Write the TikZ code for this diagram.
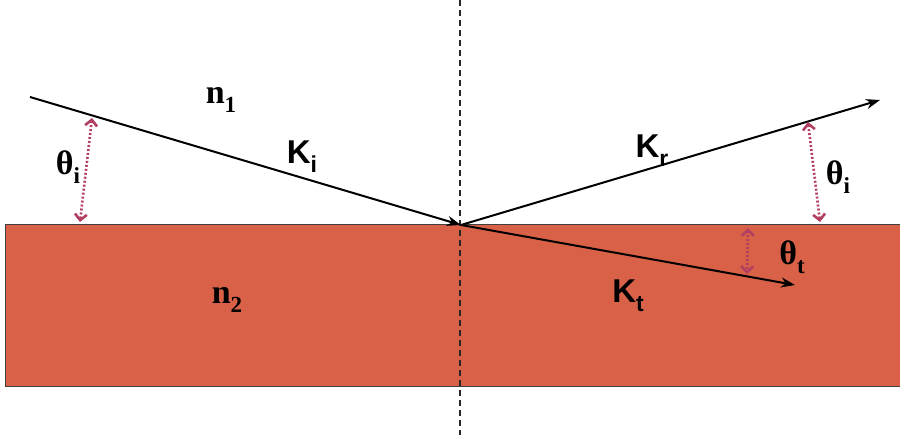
\documentclass[tikz,border=0pt]{standalone}
\usepackage{fontspec}
\setmainfont{Liberation Serif}
\setsansfont{Liberation Sans}
\usetikzlibrary{arrows.meta,positioning}
\definecolor{slabred}{RGB}{216,97,72}
\definecolor{angmaroon}{RGB}{178,62,96}
\newcommand{\lbsub}[1]{\raisebox{-0.28em}{\fontsize{23}{26}\selectfont #1}}

\begin{document}
\begin{tikzpicture}[
    x=1pt, y=-1pt, >=Stealth,
    ray/.style={line width=2pt, black, -{Stealth[length=14pt,width=10pt]}},
    ang/.style={angmaroon, line width=2.6pt, dash pattern=on 2pt off 2pt,
                {Straight Barb[length=6pt,width=12pt]}-{Straight Barb[length=6pt,width=12pt]}},
    lb/.style={font=\fontsize{34}{38}\selectfont\bfseries, inner sep=0pt},
    kb/.style={font=\fontsize{33}{38}\selectfont\sffamily\bfseries, inner sep=0pt}
]
\useasboundingbox (0,0) rectangle (900,435);
\fill[slabred, draw=black!75, line width=1pt] (5,225) rectangle (905,387);
\draw[black!85, line width=1.1pt, dash pattern=on 6pt off 4pt] (460,0) -- (460,435);

\coordinate (src)   at (30,97);
\coordinate (hit)   at (461,225);
\coordinate (refl)  at (880,100);
\coordinate (trans) at (795,285);

\draw[ray] (src) -- (hit);
\draw[ray] (hit) -- (refl);
\draw[ray] (hit) -- (trans);

\coordinate (ia) at (92,118);  \coordinate (ib) at (80,222);
\coordinate (ra) at (808,122); \coordinate (rb) at (820,222);
\coordinate (ta) at (748,228); \coordinate (tb) at (747,274);
\draw[ang] (ia) -- (ib);
\draw[ang] (ra) -- (rb);
\draw[ang] (ta) -- (tb);

\node[lb] (n1)  at (221,100) {n\lbsub{1}};
\node[lb] (n2)  at (227,300) {n\lbsub{2}};
\node[lb] (thi) at (68,167)  {θ\lbsub{i}};
\node[lb] (thr) at (838,177) {θ\lbsub{i}};
\node[lb] (tht) at (792,257) {θ\lbsub{t}};
\node[kb] (ki)  at (302,157) {K\lbsub{i}};
\node[kb] (kr)  at (652,151) {K\lbsub{r}};
\node[kb] (kt)  at (628,296) {K\lbsub{t}};
\end{tikzpicture}
\end{document}
